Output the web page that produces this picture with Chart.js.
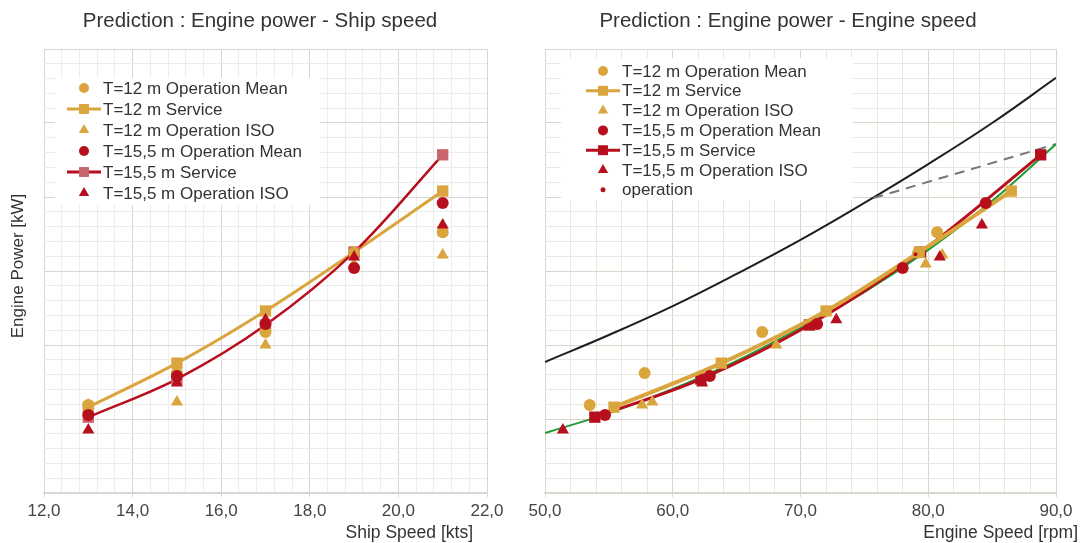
<!DOCTYPE html>
<html>
<head>
<meta charset="utf-8">
<script src="https://cdn.jsdelivr.net/npm/chart.js@4.4.0/dist/chart.umd.min.js"></script>
<style>
  html, body { margin: 0; padding: 0; background: #fff; }
  #wrap { position: relative; width: 1081px; height: 543px; }
  .box { position: absolute; top: 0; height: 543px; }
  #leftBox { left: 0; width: 520px; }
  #rightBox { left: 520px; width: 561px; }
</style>
</head>
<body>
<div id="wrap">
  <div class="box" id="leftBox"><canvas id="speedChart"></canvas></div>
  <div class="box" id="rightBox"><canvas id="rpmChart"></canvas></div>
</div>
<script>
// ship speed [kts] for the five prediction points
const shipSpeed = [13, 15, 17, 19, 21];

// engine power [kW], same points in both charts
const power12Mean = [2380, 3240, 4350, 6490, 7050];
const power12Service = [2320, 3510, 4920, 6510, 8160];
const power12Iso = [2380, 2460, 4000, 6190, 6430];
const power155Mean = [2110, 3160, 4570, 6080, 7840];
const power155Service = [2050, 3080, 4540, 6510, 9140];
const power155Iso = [1700, 2970, 4680, 6380, 7240];

// engine speed [rpm] of those points
const rpm12Mean = [53.5, 57.8, 67.0, 79.2, 80.7];
const rpm12Service = [55.4, 63.8, 72.0, 79.3, 86.5];
const rpm12Iso = [57.6, 58.4, 68.1, 79.8, 81.1];
const rpm155Mean = [54.7, 62.9, 71.3, 78.0, 84.5];
const rpm155Service = [53.9, 62.2, 70.7, 79.4, 88.8];
const rpm155Iso = [51.4, 62.3, 72.8, 80.9, 84.2];

const rpmOperation = [62.6, 71.0, 79.0];
const powerOperation = [3120, 4560, 6450];

// engine curves
const curveRpm = [50, 55, 60, 65, 70, 75, 80, 85, 90];
const limitPower = [3540, 4270, 5050, 5920, 6840, 7840, 8890, 10000, 11220];
const propellerPower = [1620, 2160, 2810, 3570, 4460, 5430, 6570, 7890, 9430];
const marginRpm = [75.7, 90];
const marginPower = [7970, 9430];

const GOLD = '#daa53c';
const RED = '#b80f1e';
const PINK = '#c8646c';
const FONT = "'Liberation Sans', Arial, sans-serif";
Chart.defaults.font.family = FONT;

const pts = (xs, ys) => xs.map((x, i) => ({ x: x, y: ys[i] }));

function isMajor(v, every) {
  if (v === undefined || v === null) return false;
  const r = v / every;
  return Math.abs(r - Math.round(r)) < 1e-6;
}

const captions = {
  id: 'captions',
  afterDraw(chart, args, opts) {
    const ctx = chart.ctx;
    (opts.items || []).forEach(it => {
      ctx.save();
      ctx.font = it.font;
      ctx.fillStyle = '#333';
      ctx.textAlign = it.align || 'center';
      ctx.textBaseline = 'middle';
      ctx.translate(it.x, it.y);
      if (it.rotate) ctx.rotate(it.rotate);
      ctx.fillText(it.text, 0, 0);
      ctx.restore();
    });
  }
};

// legend box sitting inside the plot
const boxLegend = {
  id: 'boxLegend',
  beforeDatasetsDraw(chart, args, o) {
    const ctx = chart.ctx;
    ctx.save();
    ctx.fillStyle = '#fff';
    ctx.fillRect(o.left, o.top, o.width, o.height);
    chart.data.datasets.forEach((ds, i) => {
      if (ds.inLegend === false) return;
      const y = o.firstRow + i * o.rowGap;
      if (ds.showLine) {
        ctx.strokeStyle = ds.borderColor;
        ctx.lineWidth = 3;
        ctx.beginPath();
        ctx.moveTo(o.symbolX - o.lineHalf, y);
        ctx.lineTo(o.symbolX + o.lineHalf, y);
        ctx.stroke();
      }
      ctx.fillStyle = ds.pointBackgroundColor;
      Chart.helpers.drawPoint(ctx, { pointStyle: ds.pointStyle, radius: ds.legendRadius, rotation: 0, borderWidth: 0 }, o.symbolX, y);
      ctx.fillStyle = '#333';
      ctx.font = '17px ' + FONT;
      ctx.textAlign = 'left';
      ctx.textBaseline = 'middle';
      ctx.fillText(ds.label, o.textX, y + 1);
    });
    ctx.restore();
  }
};

function pointSet(label, data, color, style, radius, order) {
  const legendRadius = { circle: 5, rect: 7, triangle: 6 }[style];
  return {
    label: label, data: data, showLine: false, pointStyle: style,
    pointRadius: radius, pointBackgroundColor: color, pointBorderWidth: 0,
    borderColor: color, legendRadius: legendRadius, order: order
  };
}

function lineSet(label, data, lineColor, pointColor, width, order) {
  return {
    label: label, data: data, showLine: true, pointStyle: 'rect',
    pointRadius: 8, pointBackgroundColor: pointColor, pointBorderWidth: 0,
    borderColor: lineColor, borderWidth: width, tension: 0.35,
    legendRadius: 7, order: order
  };
}

function axes(xMin, xMax, xStep, xMajor, yWidth, minorCol, majorCol) {
  return {
    x: {
      type: 'linear', min: xMin, max: xMax,
      afterFit: s => { s.height = 50; },
      ticks: {
        stepSize: xStep, autoSkip: false, maxRotation: 0, padding: 4,
        color: '#444', font: { size: 17 },
        callback: v => isMajor(v, xMajor) ? v.toFixed(1).replace('.', ',') : ''
      },
      grid: {
        color: c => isMajor(c.tick && c.tick.value, xMajor) ? majorCol : minorCol,
        tickLength: 4,
        tickColor: c => isMajor(c.tick && c.tick.value, xMajor) ? majorCol : 'rgba(0,0,0,0)'
      },
      border: { color: majorCol, width: 1.5 }
    },
    y: {
      type: 'linear', min: 0, max: 12000,
      afterFit: s => { s.width = yWidth; },
      ticks: { stepSize: 400, autoSkip: false, display: false },
      grid: {
        color: c => isMajor(c.tick && c.tick.value, 2000) ? majorCol : minorCol,
        drawTicks: false
      },
      border: { display: false }
    }
  };
}

new Chart(document.getElementById('speedChart'), {
  type: 'scatter',
  data: {
    datasets: [
      pointSet('T=12 m Operation Mean', pts(shipSpeed, power12Mean), GOLD, 'circle', 6, 3),
      lineSet('T=12 m Service', pts(shipSpeed, power12Service), GOLD, GOLD, 3, 6),
      pointSet('T=12 m Operation ISO', pts(shipSpeed, power12Iso), GOLD, 'triangle', 7, 4),
      pointSet('T=15,5 m Operation Mean', pts(shipSpeed, power155Mean), RED, 'circle', 6, 1),
      lineSet('T=15,5 m Service', pts(shipSpeed, power155Service), RED, PINK, 2.5, 5),
      pointSet('T=15,5 m Operation ISO', pts(shipSpeed, power155Iso), RED, 'triangle', 7, 2)
    ]
  },
  options: {
    responsive: true, maintainAspectRatio: false, animation: false,
    layout: { padding: { top: 49, right: 33, left: 0, bottom: 0 } },
    scales: axes(12, 22, 0.4, 2, 44, '#ececec', '#d6d6d6'),
    plugins: {
      legend: { display: false },
      tooltip: { enabled: false },
      boxLegend: { left: 55, top: 78, width: 265, height: 127, firstRow: 88, rowGap: 21, symbolX: 84, textX: 103, lineHalf: 17 },
      captions: {
        items: [
          { text: 'Prediction : Engine power - Ship speed', x: 260, y: 21, font: '20.5px ' + FONT },
          { text: 'Ship Speed [kts]', x: 473, y: 533, align: 'right', font: '17.5px ' + FONT },
          { text: 'Engine Power [kW]', x: 18, y: 266, rotate: -Math.PI / 2, font: '17px ' + FONT }
        ]
      }
    }
  },
  plugins: [boxLegend, captions]
});

const limitLine = {
  label: 'limit', data: pts(curveRpm, limitPower), showLine: true, pointRadius: 0,
  borderColor: '#1e1e1e', borderWidth: 2, tension: 0.4, inLegend: false, order: 9
};
const propellerLine = {
  label: 'propeller', data: pts(curveRpm, propellerPower), showLine: true, pointRadius: 0,
  borderColor: '#1f9a34', borderWidth: 2, tension: 0.4, inLegend: false, order: 7
};
const marginLine = {
  label: 'margin', data: pts(marginRpm, marginPower), showLine: true, pointRadius: 0,
  borderColor: '#777', borderWidth: 2, borderDash: [10, 7], inLegend: false, order: 8
};
const operationSet = pointSet('operation', pts(rpmOperation, powerOperation), RED, 'circle', 2, 0);
operationSet.legendRadius = 2.5;

new Chart(document.getElementById('rpmChart'), {
  type: 'scatter',
  data: {
    datasets: [
      pointSet('T=12 m Operation Mean', pts(rpm12Mean, power12Mean), GOLD, 'circle', 6, 3),
      lineSet('T=12 m Service', pts(rpm12Service, power12Service), GOLD, GOLD, 4, 5),
      pointSet('T=12 m Operation ISO', pts(rpm12Iso, power12Iso), GOLD, 'triangle', 7, 4),
      pointSet('T=15,5 m Operation Mean', pts(rpm155Mean, power155Mean), RED, 'circle', 6, 1),
      lineSet('T=15,5 m Service', pts(rpm155Service, power155Service), RED, RED, 3, 6),
      pointSet('T=15,5 m Operation ISO', pts(rpm155Iso, power155Iso), RED, 'triangle', 7, 2),
      operationSet,
      limitLine, propellerLine, marginLine
    ]
  },
  options: {
    responsive: true, maintainAspectRatio: false, animation: false,
    layout: { padding: { top: 49, right: 25, left: 0, bottom: 0 } },
    scales: axes(50, 90, 2, 10, 25, '#e9e7de', '#d9d7cc'),
    plugins: {
      legend: { display: false },
      tooltip: { enabled: false },
      boxLegend: { left: 41, top: 58, width: 292, height: 142, firstRow: 71, rowGap: 19.8, symbolX: 83, textX: 102, lineHalf: 17 },
      captions: {
        items: [
          { text: 'Prediction : Engine power - Engine speed', x: 268, y: 21, font: '20.5px ' + FONT },
          { text: 'Engine Speed [rpm]', x: 558, y: 533, align: 'right', font: '17.5px ' + FONT }
        ]
      }
    }
  },
  plugins: [boxLegend, captions]
});
</script>
</body>
</html>
